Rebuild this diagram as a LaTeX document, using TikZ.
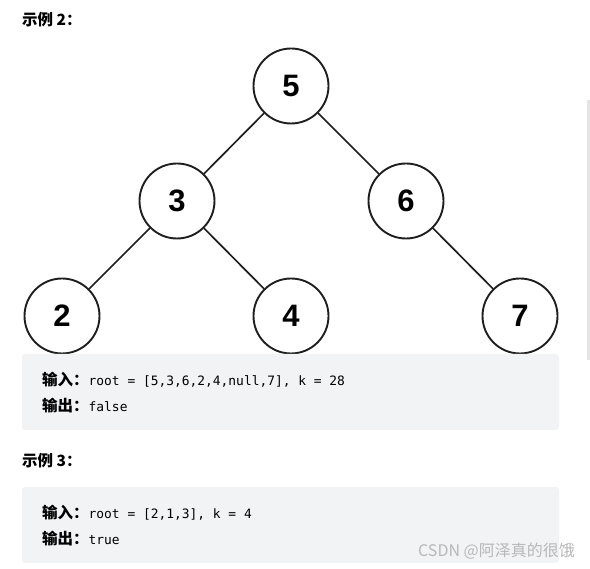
\documentclass[tikz,border=0pt]{standalone}
\usepackage{fontspec}
\setmainfont{Liberation Sans}
\newfontfamily\cjk{Noto Sans CJK SC}
\newfontfamily\codefont{DejaVu Sans Mono}
\usetikzlibrary{positioning}
\definecolor{codebg}{HTML}{F2F3F5}
\definecolor{inkline}{HTML}{1E1E1E}
\definecolor{markgray}{HTML}{B8B8B8}
\definecolor{barfill}{HTML}{E4E4E6}

\begin{document}
\begin{tikzpicture}[x=1pt, y=-1pt,
    treenode/.style={circle, draw=inkline, line width=1.9pt, fill=white,
        minimum size=75pt, inner sep=0pt, font=\fontsize{31}{31}\selectfont\bfseries},
    treeedge/.style={draw=inkline, line width=1.7pt},
    codebox/.style={fill=codebg, rounded corners=3pt},
    headtext/.style={anchor=base west, inner sep=0pt, font=\fontsize{15.5}{16}\selectfont\cjk\bfseries},
    codetext/.style={anchor=base west, inner sep=0pt, font=\fontsize{15.5}{16}\selectfont}]
    \useasboundingbox (0,0) rectangle (590,569);

    % 标题
    \node[headtext] (title2) at (22,26) {示例 2：};

    % 树
    \node[treenode] (n5) at (291,86) {5};
    \node[treenode] (n3) at (177,201) {3};
    \node[treenode] (n6) at (406,201) {6};
    \node[treenode] (n2) at (62,316) {2};
    \node[treenode] (n4) at (291,316) {4};
    \node[treenode] (n7) at (520,316) {7};
    \draw[treeedge] (n5) -- (n3);
    \draw[treeedge] (n5) -- (n6);
    \draw[treeedge] (n3) -- (n2);
    \draw[treeedge] (n3) -- (n4);
    \draw[treeedge] (n6) -- (n7);

    % 滚动条
    \fill[barfill] (587,100) rectangle (590,360);

    % 示例 2 的输入输出
    \fill[codebox] (22,354) rectangle (559,430);
    \node[codetext] (in2) at (42,386) {{\cjk\bfseries 输入：}{\codefont\fontsize{12.9}{14}\selectfont root = [5,3,6,2,4,null,7], k = 28}};
    \node[codetext] (out2) at (42,412) {{\cjk\bfseries 输出：}{\codefont\fontsize{12.9}{14}\selectfont false}};

    % 示例 3
    \node[headtext] (title3) at (22,467) {示例 3：};
    \fill[codebox] (22,487) rectangle (559,563);
    \node[codetext] (in3) at (42,519) {{\cjk\bfseries 输入：}{\codefont\fontsize{12.9}{14}\selectfont root = [2,1,3], k = 4}};
    \node[codetext] (out3) at (42,545) {{\cjk\bfseries 输出：}{\codefont\fontsize{12.9}{14}\selectfont true}};

    % 水印
    \node[anchor=base west, inner sep=0pt, text=markgray,
        font=\fontsize{16}{16}\selectfont\cjk] (mark) at (418,557) {CSDN @阿泽真的很饿};
\end{tikzpicture}
\end{document}
